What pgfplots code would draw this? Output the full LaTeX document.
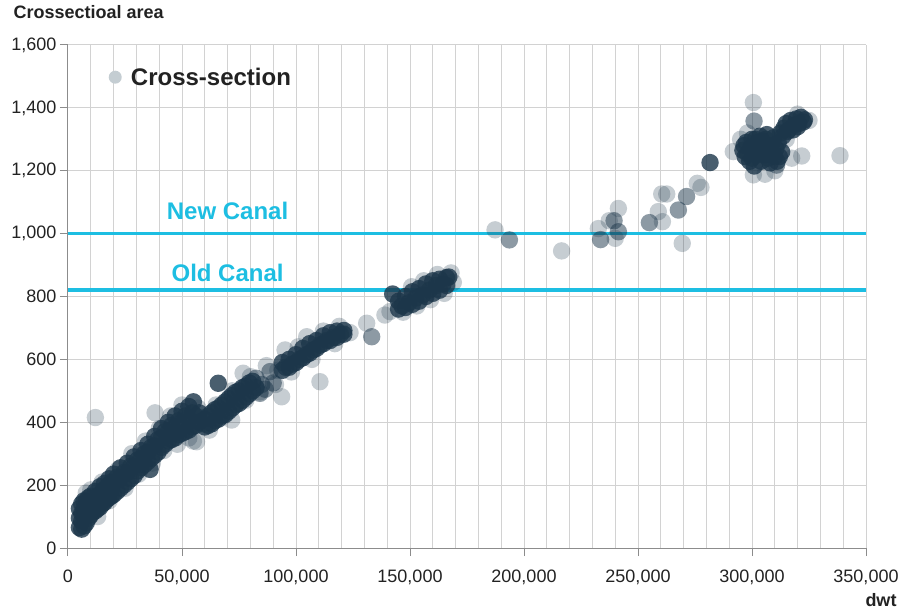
\documentclass[border=0pt]{standalone}
\usepackage{fontspec}
\setmainfont{Liberation Sans}
\usepackage{pgfplots}
\pgfplotsset{compat=1.18}
\definecolor{navy}{RGB}{28,54,74}
\definecolor{legc}{RGB}{196,205,210}
\definecolor{canal}{RGB}{29,190,226}
\definecolor{gridc}{RGB}{210,210,210}
\definecolor{axisc}{RGB}{140,140,140}
\definecolor{txt}{RGB}{34,34,34}

\begin{document}
\begin{tikzpicture}
\useasboundingbox (-68bp,-63bp) rectangle (852bp,548bp);
\begin{axis}[
  scale only axis, width=798bp, height=503bp,
  xmin=0, xmax=350000, ymin=0, ymax=1600,
  xtick={0,50000,...,350000}, ytick={0,200,...,1600},
  minor x tick num=4,
  xmajorgrids, xminorgrids, ymajorgrids,
  grid style={gridc, line width=1bp},
  minor grid style={gridc, line width=1bp},
  axis x line*=bottom, axis y line*=left,
  axis line style={-, axisc, line width=1bp},
  tick style={axisc, line width=1bp},
  major tick length=8bp, minor tick length=0pt,
  tick align=outside,
  scaled x ticks=false, scaled y ticks=false,
  /pgf/number format/.cd, fixed, precision=0, 1000 sep={,}, assume math mode=true, /pgfplots/.cd,
  tick label style={font=\fontsize{18bp}{21bp}\selectfont, text=txt},
  xticklabel style={yshift=-10bp},
  legend style={draw=none, fill=none, at={(0.0508,0.936)}, anchor=west,
    inner sep=0pt, font=\bfseries\fontsize{24bp}{28bp}\selectfont, text=txt},
  legend image code/.code={\path[fill=legc, draw=none] (6.5bp,0bp) circle (6.5bp); \path (20bp,0bp);},
]
% light points
\addplot[only marks, mark=*, mark size=8.7bp, mark options={fill=navy, fill opacity=0.25, draw opacity=0}] coordinates {
(12000,415) (10000,185) (8000,175) (13000,100) (15000,210) (18000,150) (22000,250) (25000,190)
(28000,300) (31000,235) (34000,340) (37000,270) (38200,430) (40000,380) (42000,310) (45000,420)
(48000,330) (50000,455) (53000,350) (55000,340) (56400,338) (57000,445) (59000,395) (62000,375)
(65000,455) (68000,418) (71800,407) (72000,500) (76800,556) (78000,470) (80000,545) (84200,497)
(87000,580) (91000,520) (93700,481) (92000,565) (95200,630) (98000,560) (101000,640) (104700,672)
(107000,600) (110500,529) (112000,690) (117000,650) (119000,705) (123700,685) (131000,715)
(139000,741) (141200,752) (147000,750) (150700,831) (153000,770) (156000,850) (159000,790)
(162000,870) (165000,810) (168000,875) (169000,845)
(187300,1012) (216500,945) (232600,1016) (237400,1041) (241400,1080) (240000,985) (258900,1070)
(260700,1038) (260400,1126) (262600,1126) (269400,969) (276000,1160) (277600,1147)
(300600,1417) (291800,1261) (300600,1187) (305700,1189) (317400,1240) (321800,1247) (338600,1248)
(295000,1300) (310000,1200) (315000,1300) (325000,1360) (298000,1320) (320000,1380)
};
\addlegendentry{Cross-section}
% medium points
\addplot[only marks, mark=*, mark size=8.7bp, forget plot, mark options={fill=navy, fill opacity=0.5, draw opacity=0}] coordinates {
(82500,540) (85000,520) (86500,505) (88600,561) (90000,525) (84200,492) (133200,672)
(193600,980) (239500,1041) (233600,981) (241400,1006) (255000,1035) (267700,1075) (271300,1118)
(300900,1358) (310800,1218)
};
% dense core
\addplot[only marks, mark=*, mark size=8.7bp, forget plot, mark options={fill=navy, fill opacity=0.8, draw opacity=0}] coordinates {
(5000,65) (5000,95) (5000,125) (6000,60) (6000,85) (6000,110) (6000,140) (7000,70) (7000,100)
(7000,125) (7000,150) (8000,80) (8000,110) (8000,150) (9000,95) (9000,130) (9000,160) (10000,105)
(10000,140) (10000,165) (11000,115) (11000,150) (12000,118) (12000,155) (12000,180) (13000,125)
(13000,165) (14000,130) (14000,170) (14000,195) (15000,140) (15000,180) (16000,145) (16000,185)
(16000,205) (17000,155) (17000,195) (18000,160) (18000,200) (18000,220) (19000,165) (19000,210)
(20000,170) (20000,205) (20000,235) (21500,180) (21500,225) (23000,190) (23000,225) (23000,255)
(24500,200) (24500,240) (26000,210) (26000,240) (26000,270) (27500,220) (27500,260) (29000,230)
(29000,260) (29000,290) (30500,245) (30500,280) (32000,255) (32000,285) (32000,310) (33500,265)
(33500,300) (35000,275) (35000,305) (35000,330) (36000,250) (36500,285) (36500,320) (38000,295)
(38000,325) (38000,355) (39500,305) (39500,345) (41000,320) (41000,350) (41000,380) (42500,330)
(42500,370) (44000,340) (44000,370) (44000,400) (45500,345) (45500,390) (47000,350) (47000,385)
(47000,420) (48500,360) (48500,405) (50000,365) (50000,400) (50000,435) (51500,370) (51500,420)
(53000,375) (53000,410) (53000,450) (55000,465) (54500,385) (54500,430) (56000,390) (56000,420)
(57500,400) (57500,430)
(60000,385) (60000,410) (61500,390) (61500,420) (63000,395) (63000,430) (64500,405) (64500,440)
(66000,410) (66000,445) (65900,524) (67500,420) (67500,455) (69000,425) (69000,465) (70500,435)
(70500,475) (72000,445) (72000,485) (73500,455) (73500,495) (75000,460) (75000,500) (76500,470)
(76500,510) (78000,480) (78000,515) (79500,490) (79500,525) (81000,500) (81000,530) (82500,510)
(94000,565) (94000,590) (95500,575) (97000,575) (97000,600) (98500,585) (100000,590) (100000,615)
(101500,600) (103000,605) (103000,635) (104500,615) (106000,620) (106000,650) (107500,630)
(109000,635) (109000,660) (110500,645) (112000,650) (112000,675) (113500,660) (115000,660)
(115000,685) (116500,670) (118000,670) (118000,690) (119500,680) (121000,680) (121000,692)
(142400,808) (145000,760) (145000,785) (146500,770) (148000,765) (148000,800) (149500,780)
(151000,775) (151000,815) (152500,795) (154000,785) (154000,825) (155500,805) (157000,800)
(157000,840) (158500,820) (160000,810) (160000,850) (161500,835) (163000,820) (163000,855)
(164500,840) (166000,835) (166000,860) (167000,862)
(281600,1226)
(296000,1265) (297000,1245) (297500,1290) (299000,1230) (299500,1275) (300000,1300) (301000,1215)
(302000,1250) (302500,1290) (303500,1310) (304000,1230) (305000,1270) (306000,1300) (306500,1315)
(307000,1240) (308000,1225) (308500,1280) (309500,1305) (310000,1245) (311000,1230) (311500,1290)
(312500,1320) (313000,1260) (314000,1335) (315000,1350) (316000,1330) (317000,1360) (318500,1345)
(319500,1365) (320500,1350) (321500,1370) (322500,1355) (323000,1362)
(298000,1255) (300000,1240) (303000,1270) (305500,1250) (308000,1260) (310500,1270) (301500,1300)
(296500,1280) (313500,1310) (315500,1325) (312000,1245) (304500,1295) (318000,1330) (320000,1340)
};
% canal levels
\addplot[canal, line width=2.6bp, forget plot] coordinates {(0,1000) (350000,1000)};
\addplot[canal, line width=4.5bp, forget plot] coordinates {(0,820) (350000,820)};
\node[anchor=base, text=canal, font=\bfseries\fontsize{24bp}{28bp}\selectfont] at (axis cs:70000,1044) {New Canal};
\node[anchor=base, text=canal, font=\bfseries\fontsize{24bp}{28bp}\selectfont] at (axis cs:70000,849) {Old Canal};
\end{axis}
\node[anchor=base west, text=txt, font=\bfseries\fontsize{18bp}{21bp}\selectfont] at (-58bp,529bp) {Crossectioal area};
\node[anchor=base east, text=txt, font=\bfseries\fontsize{18bp}{21bp}\selectfont] at (832bp,-58bp) {dwt};
\end{tikzpicture}
\end{document}
